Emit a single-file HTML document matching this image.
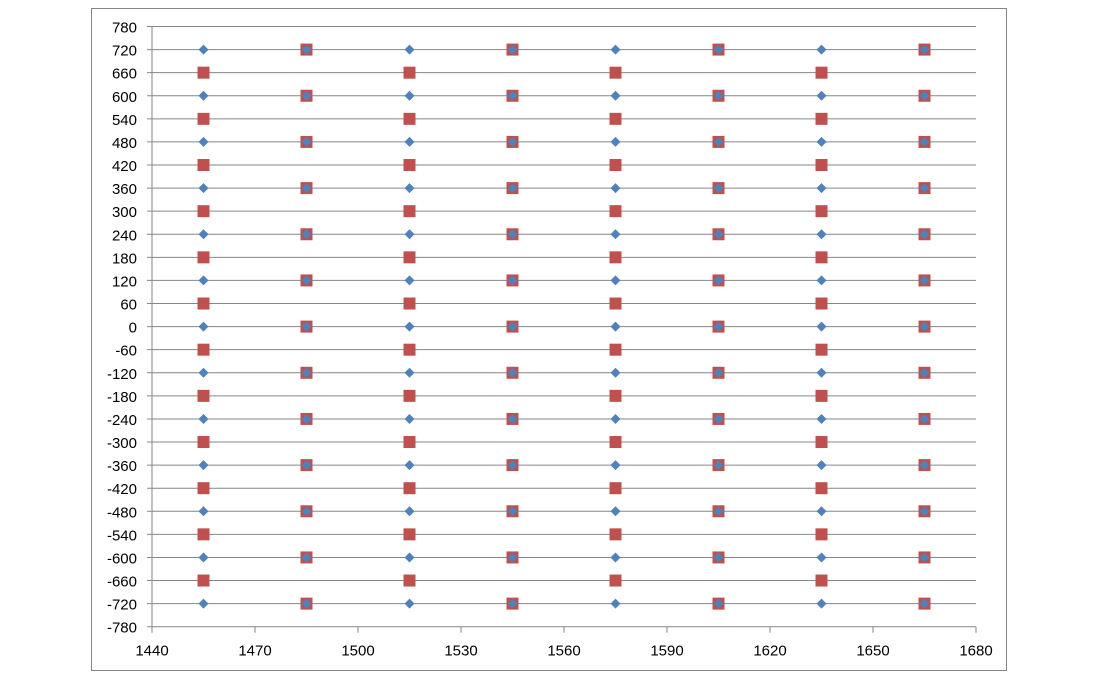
<!DOCTYPE html>
<html><head><meta charset="utf-8"><style>
body{margin:0;background:#fff;}
svg{display:block;font-family:"Liberation Sans",sans-serif;}
</style></head><body>
<svg id="chart" width="1100" height="680">
<rect x="91.5" y="8.5" width="915" height="662" fill="#fff" stroke="#868686"/>
<g id="grid"></g><g id="axes"></g><g id="marks"></g>
</svg>
<script>
const xTicks=[1440,1470,1500,1530,1560,1590,1620,1650,1680];
const yTicks=[780,720,660,600,540,480,420,360,300,240,180,120,60,0,-60,-120,-180,-240,-300,-360,-420,-480,-540,-600,-660,-720,-780];
const colsA=[1455,1515,1575,1635];
const colsB=[1485,1545,1605,1665];
const blueY=[720,600,480,360,240,120,0,-120,-240,-360,-480,-600,-720];
const redYA=[660,540,420,300,180,60,-60,-180,-300,-420,-540,-660];
const redYB=[720,600,480,360,240,120,0,-120,-240,-360,-480,-600,-720];
const NS='http://www.w3.org/2000/svg';
const X0=152,X1=976,Y0=26.5,Y1=626.7;
const sx=v=>X0+(v-1440)/(1680-1440)*(X1-X0);
const sy=v=>Y1-(v+780)/1560*(Y1-Y0);
function mk(t,a,p){const e=document.createElementNS(NS,t);for(const k in a)e.setAttribute(k,a[k]);p.appendChild(e);return e;}
const grid=document.getElementById('grid'),axes=document.getElementById('axes'),marks=document.getElementById('marks');
yTicks.forEach(v=>{
 const l=mk('line',{x1:X0-5,x2:X1,y1:sy(v),y2:sy(v),stroke:'#868686','stroke-width':1},grid);
 
 
 const t=mk('text',{x:X0-15,y:sy(v)+6,'text-anchor':'end','font-size':15,fill:'#000'},axes);
 t.textContent=v;
 
 
});
const ax=mk('line',{x1:X0,x2:X0,y1:Y0,y2:Y1,stroke:'#868686'},axes);


xTicks.forEach(v=>{
 const l=mk('line',{x1:sx(v),x2:sx(v),y1:Y1,y2:Y1+6,stroke:'#868686'},axes);
 
 
 const t=mk('text',{x:sx(v),y:Y1+29,'text-anchor':'middle','font-size':15,fill:'#000'},axes);
 t.textContent=v;
 
 
});
function sq(x,y){const r=mk('rect',{x:sx(x)-6,y:sy(y)-6,width:12,height:12,fill:'#c0504d'},marks);
 
 }
function di(x,y){const cx=sx(x),cy=sy(y);const p=mk('polygon',{points:`${cx},${cy-5} ${cx+5},${cy} ${cx},${cy+5} ${cx-5},${cy}`,fill:'#4f81bd'},marks);
 
 }
colsA.forEach(x=>redYA.forEach(y=>sq(x,y)));
colsB.forEach(x=>redYB.forEach(y=>sq(x,y)));
colsA.concat(colsB).forEach(x=>blueY.forEach(y=>di(x,y)));
</script>
</body></html>
